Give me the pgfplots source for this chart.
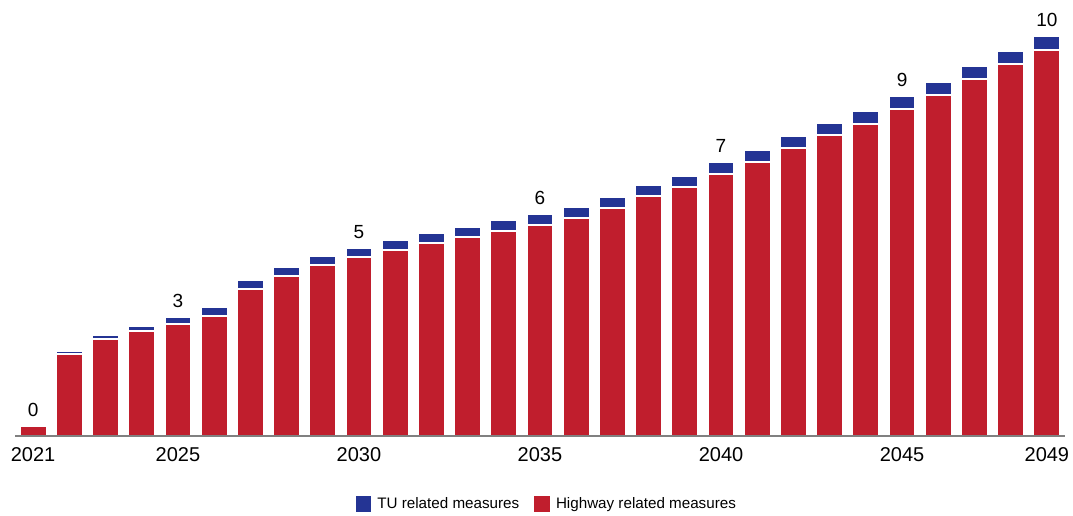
\documentclass[border=0pt]{standalone}
\usepackage{pgfplots}
\pgfplotsset{compat=1.18}
\usepackage{fontspec}
\setmainfont{Liberation Sans}
\definecolor{hwred}{RGB}{192,30,45}
\definecolor{tublue}{RGB}{36,52,148}
\definecolor{axgray}{RGB}{128,128,128}
\pgfplotsset{
  base/.style={
    scale only axis,
    width=1050pt, height=420pt,
    xmin=2020.5, xmax=2049.5,
    ymin=0, ymax=10.5,
    clip=false,
  }
}
\begin{document}
\begin{tikzpicture}
\useasboundingbox (-15pt,-80pt) rectangle (1058pt,436pt);
\begin{axis}[
  base,
  ybar stacked,
  bar width=26pt,
  axis on top=true,
  axis x line*=bottom,
  axis y line=none,
  x axis line style={draw=axgray, line width=2.8pt},
  xtick={2021,2025,2030,2035,2040,2045,2049},
  xticklabels={2021,2025,2030,2035,2040,2045,2049},
  major tick length=0pt,
  xticklabel style={font=\fontsize{20}{24}\selectfont, inner sep=0pt, anchor=north, yshift=-11pt},
  ytick=\empty,
  reverse legend=true,
  legend columns=2,
  legend style={draw=none, at={(0.5065,-0.162)}, anchor=center,
    font=\fontsize{15.2}{18}\selectfont,
    /tikz/every odd column/.append style={column sep=4pt},
    /tikz/every even column/.append style={column sep=13pt}},
]
\addplot[fill=hwred, draw=white, line width=1.2pt,
  legend image code/.code={\fill[hwred] (0pt,-7pt) rectangle (14.5pt,7.5pt);}]
coordinates {
(2021,0.25) (2022,2.05) (2023,2.425) (2024,2.625) (2025,2.8) (2026,3.0)
(2027,3.675) (2028,4.0) (2029,4.275) (2030,4.475) (2031,4.65) (2032,4.825)
(2033,4.975) (2034,5.125) (2035,5.275) (2036,5.45) (2037,5.7) (2038,6.0)
(2039,6.225) (2040,6.55) (2041,6.85) (2042,7.2) (2043,7.525) (2044,7.8)
(2045,8.175) (2046,8.525) (2047,8.925) (2048,9.3) (2049,9.65)
};
\addlegendentry{Highway related measures}
\addplot[fill=tublue, draw=white, line width=1.2pt,
  legend image code/.code={\fill[tublue] (0pt,-7pt) rectangle (14.5pt,7.5pt);}]
coordinates {
(2021,0) (2022,0.065) (2023,0.1) (2024,0.125) (2025,0.175) (2026,0.225)
(2027,0.225) (2028,0.225) (2029,0.225) (2030,0.225) (2031,0.25) (2032,0.25)
(2033,0.25) (2034,0.275) (2035,0.275) (2036,0.275) (2037,0.275) (2038,0.275)
(2039,0.275) (2040,0.3) (2041,0.3) (2042,0.3) (2043,0.3) (2044,0.325)
(2045,0.325) (2046,0.325) (2047,0.325) (2048,0.325) (2049,0.35)
};
\addlegendentry{TU related measures}
\end{axis}
\begin{axis}[
  base,
  hide axis,
]
\addplot[draw=none, mark=none,
  point meta=explicit symbolic,
  nodes near coords,
  every node near coord/.append style={font=\fontsize{19}{22}\selectfont, inner sep=0pt, anchor=south, yshift=9pt, text=black}]
coordinates {
(2021,0.25)[0] (2025,2.975)[3] (2030,4.7)[5] (2035,5.55)[6]
(2040,6.85)[7] (2045,8.5)[9] (2049,10.0)[10]
};
\end{axis}
\end{tikzpicture}
\end{document}
